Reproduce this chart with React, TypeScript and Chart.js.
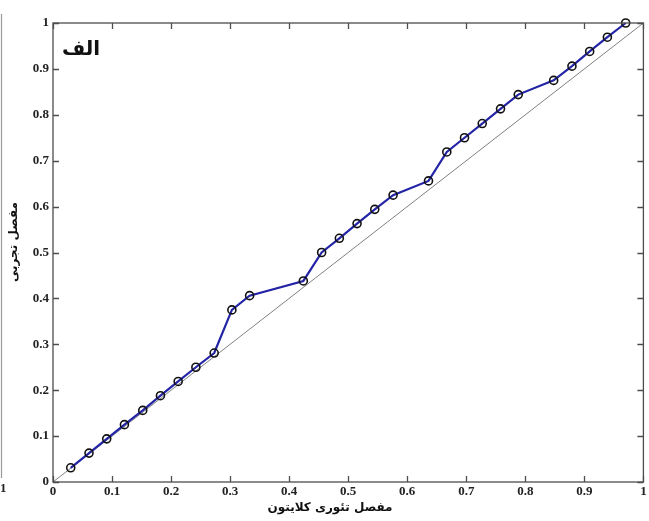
import { useEffect, useRef } from "react";
import { Chart, registerables } from "chart.js";

Chart.register(...registerables);

// Empirical vs theoretical Clayton copula values
const xValues = [0.03, 0.061, 0.091, 0.121, 0.152, 0.182, 0.212, 0.242, 0.273, 0.303, 0.333, 0.424, 0.455, 0.485, 0.515, 0.545, 0.576, 0.636, 0.667, 0.697, 0.727, 0.758, 0.788, 0.848, 0.879, 0.909, 0.939, 0.97];
const yValues = [0.031, 0.063, 0.094, 0.125, 0.156, 0.188, 0.219, 0.25, 0.281, 0.375, 0.406, 0.438, 0.5, 0.531, 0.563, 0.594, 0.625, 0.656, 0.719, 0.75, 0.781, 0.813, 0.844, 0.875, 0.906, 0.938, 0.969, 1.0];

// 45-degree reference line
const refX = [0, 1];
const refY = [0, 1];

const axisMin = 0;
const axisMax = 1;
const tickStep = 0.1;
const tickLabels = ["0", "0.1", "0.2", "0.3", "0.4", "0.5", "0.6", "0.7", "0.8", "0.9", "1"];

const panelLabel = "الف";
const xTitle = "مفصل تئوری کلایتون";
const yTitle = "مفصل تجربی";
const neighbourTick = "1";

const framePlugin = {
  id: "frame",
  afterDraw(chart: any) {
    const { ctx, chartArea, scales } = chart;
    const { left, right, top, bottom } = chartArea;
    const xs = scales.x;
    const ys = scales.y;
    ctx.save();
    ctx.strokeStyle = "#4d4d4d";
    ctx.lineWidth = 1.3;
    ctx.strokeRect(left, top, right - left, bottom - top);
    const tl = 6;
    ctx.beginPath();
    xs.ticks.forEach((t: any) => {
      const px = Math.round(xs.getPixelForValue(t.value)) + 0.5;
      ctx.moveTo(px, bottom);
      ctx.lineTo(px, bottom - tl);
      ctx.moveTo(px, top);
      ctx.lineTo(px, top + tl);
    });
    ys.ticks.forEach((t: any) => {
      const py = Math.round(ys.getPixelForValue(t.value)) + 0.5;
      ctx.moveTo(left, py);
      ctx.lineTo(left + tl, py);
      ctx.moveTo(right, py);
      ctx.lineTo(right - tl, py);
    });
    ctx.stroke();

    // neighbouring panel edge
    ctx.strokeStyle = "#9a9a9a";
    ctx.lineWidth = 1.2;
    ctx.beginPath();
    ctx.moveTo(1.5, 14);
    ctx.lineTo(1.5, 478);
    ctx.stroke();
    ctx.fillStyle = "#222";
    ctx.font = "bold 13px 'Liberation Serif'";
    ctx.textAlign = "left";
    ctx.textBaseline = "middle";
    ctx.fillText(neighbourTick, 0, 489);

    // panel label
    ctx.fillStyle = "#111";
    ctx.font = "bold 20px 'DejaVu Sans'";
    ctx.textAlign = "left";
    ctx.textBaseline = "alphabetic";
    ctx.fillText(panelLabel, 62, 55);

    // x title
    ctx.font = "bold 12px 'DejaVu Sans'";
    ctx.textAlign = "center";
    ctx.textBaseline = "middle";
    ctx.fillText(xTitle, 330, 508);

    // y title
    ctx.translate(14, 242);
    ctx.rotate(-Math.PI / 2);
    ctx.fillText(yTitle, 0, 0);
    ctx.restore();
  },
};

export default function App() {
  const ref = useRef<HTMLCanvasElement>(null);
  useEffect(() => {
    if (!ref.current) return;
    const tickFont = { family: "'Liberation Serif'", size: 13, weight: "bold" as const };
    const chart = new Chart(ref.current, {
      type: "scatter",
      data: {
        datasets: [
          {
            data: refX.map((x, i) => ({ x, y: refY[i] })),
            showLine: true,
            borderColor: "#808080",
            borderWidth: 1,
            pointRadius: 0,
            order: 2,
          },
          {
            data: xValues.map((x, i) => ({ x, y: yValues[i] })),
            showLine: true,
            borderColor: "#2424a6",
            borderWidth: 2.2,
            pointRadius: 4,
            pointBorderColor: "#111",
            pointBorderWidth: 1.6,
            pointBackgroundColor: "rgba(0,0,0,0)",
            clip: false as any,
            order: 1,
          },
        ],
      },
      options: {
        animation: false,
        responsive: false,
        layout: { padding: { top: 23, right: 3, left: 0, bottom: 0 } },
        plugins: { legend: { display: false }, tooltip: { enabled: false } },
        scales: {
          x: {
            type: "linear",
            min: axisMin,
            max: axisMax,
            ticks: {
              stepSize: tickStep,
              font: tickFont,
              color: "#222",
              padding: 2,
              maxRotation: 0,
              callback: (_v: any, i: number) => tickLabels[i],
            },
            grid: { display: false, drawTicks: false },
            border: { display: false },
            afterFit: (s: any) => {
              s.height = 39;
              s.paddingLeft = 0;
              s.paddingRight = 0;
            },
          },
          y: {
            type: "linear",
            min: axisMin,
            max: axisMax,
            ticks: {
              stepSize: tickStep,
              font: tickFont,
              color: "#222",
              padding: 4,
              callback: (_v: any, i: number) => tickLabels[i],
            },
            grid: { display: false, drawTicks: false },
            border: { display: false },
            afterFit: (s: any) => {
              s.width = 53;
              s.paddingTop = 0;
              s.paddingBottom = 0;
            },
          },
        },
      },
      plugins: [framePlugin],
    });
    return () => chart.destroy();
  }, []);
  return (
    <div style={{ position: "absolute", left: 0, top: 0, width: 649, height: 521, background: "#fff" }}>
      <canvas ref={ref} width={649} height={521} />
    </div>
  );
}
